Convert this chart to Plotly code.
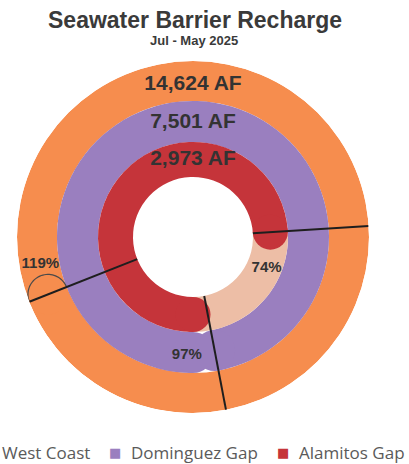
import numpy as np
import plotly.graph_objects as go

# ---------------------------------------------------------------------------
# Data
# ---------------------------------------------------------------------------
barriers = ["West Coast", "Dominguez Gap", "Alamitos Gap"]
recharge_af = [14624, 7501, 2973]
pct_of_target = [119, 97, 74]

title = "Seawater Barrier Recharge"
subtitle = "Jul - May 2025"

# ---------------------------------------------------------------------------
# Style
# ---------------------------------------------------------------------------
W, H = 409, 464
CX, CY, R_OUT = 193, 237, 176          # donut centre / outer radius in px
START = 180                              # rings start at the bottom, run clockwise

RING_COLORS = {
    "West Coast": "#F68D4E",
    "Dominguez Gap": "#9A7FBF",
    "Alamitos Gap": "#C5343A",
}
TRACK_COLOR = "#EDBEA6"                  # unfilled part of the inner ring
TRACKED = {"Alamitos Gap"}
RINGS = {                                # (inner, outer) radius, 1 unit = 1 px
    "West Coast": (136, 176),
    "Dominguez Gap": (95, 136),
    "Alamitos Gap": (60, 95),
}
HOLE = 60
AF_LABEL_R = {"West Coast": 152, "Dominguez Gap": 114, "Alamitos Gap": 77}
PCT_LABEL_POS = {"West Coast": (155, 260), "Dominguez Gap": (118, 183), "Alamitos Gap": (80, 113)}
TEXT_COLOR = "#333333"
FONT = "Liberation Sans, Arial, sans-serif"


def px_x(x):
    return x / W


def px_y(y):
    return 1 - y / H


def cap_outline(r_mid, theta, rho, n=40):
    """Semicircle ahead of an arc end, returned in polar (r, theta)."""
    t = np.radians(theta)
    u_r = np.array([np.sin(t), np.cos(t)])
    u_t = np.array([np.cos(t), -np.sin(t)])
    c = r_mid * u_r
    phi = np.linspace(0, np.pi, n)
    pts = c[:, None] + rho * (np.outer(u_r, np.cos(phi)) + np.outer(u_t, np.sin(phi)))
    r = np.hypot(pts[0], pts[1])
    th = np.degrees(np.arctan2(pts[0], pts[1]))
    return r, th


fig = go.Figure()

# ring bars
for name, pct in zip(barriers, pct_of_target):
    r0, r1 = RINGS[name]
    span = pct / 100 * 360
    color = RING_COLORS[name]
    thetas, widths, colors = [], [], []
    if span >= 360:
        thetas += [START + 180, START + (span - 360) / 2]
        widths += [360, span - 360]
        colors += [color, color]
    else:
        thetas.append(START + span / 2)
        widths.append(span)
        colors.append(color)
        if name in TRACKED:
            thetas.append(START + span + (360 - span) / 2)
            widths.append(360 - span)
            colors.append(TRACK_COLOR)
    fig.add_trace(
        go.Barpolar(
            r=[r1 - r0] * len(thetas),
            base=[r0] * len(thetas),
            theta=thetas,
            width=widths,
            marker=dict(color=colors, line=dict(width=0)),
            name=name,
            showlegend=False,
            hoverinfo="skip",
        )
    )

# rounded ends
for name, pct in zip(barriers, pct_of_target):
    r0, r1 = RINGS[name]
    r_mid = (r0 + r1) / 2
    end = START + pct / 100 * 360
    ends = [end] if pct >= 100 else [START, end]
    fig.add_trace(
        go.Scatterpolar(
            r=[r_mid] * len(ends),
            theta=ends,
            mode="markers",
            marker=dict(size=r1 - r0, color=RING_COLORS[name], line=dict(width=0)),
            showlegend=False,
            hoverinfo="skip",
        )
    )
    if pct >= 100:
        cr, ct = cap_outline(r_mid, end, (r1 - r0) / 2)
        fig.add_trace(
            go.Scatterpolar(
                r=cr, theta=ct, mode="lines",
                line=dict(color="#4a4a4a", width=1.2),
                showlegend=False, hoverinfo="skip",
            )
        )

# end-of-progress markers
for pct in pct_of_target:
    end = START + pct / 100 * 360
    fig.add_trace(
        go.Scatterpolar(
            r=[HOLE, R_OUT], theta=[end, end], mode="lines",
            line=dict(color="#1e1e1e", width=2),
            showlegend=False, hoverinfo="skip",
        )
    )

# value labels
fig.add_trace(
    go.Scatterpolar(
        r=[AF_LABEL_R[n] for n in barriers],
        theta=[0] * len(barriers),
        text=[f"{v:,} AF" for v in recharge_af],
        mode="text",
        textfont=dict(family=FONT, size=21, color=TEXT_COLOR, weight="bold"),
        showlegend=False, hoverinfo="skip",
    )
)
fig.add_trace(
    go.Scatterpolar(
        r=[PCT_LABEL_POS[n][0] for n in barriers],
        theta=[PCT_LABEL_POS[n][1] for n in barriers],
        text=[f"{p}%" for p in pct_of_target],
        mode="text",
        textfont=dict(family=FONT, size=15, color=TEXT_COLOR, weight="bold"),
        showlegend=False, hoverinfo="skip",
    )
)

annotations = [
    dict(text=f"<b>{title}</b>", x=px_x(195), y=px_y(20), xref="paper", yref="paper",
         xanchor="center", yanchor="middle", showarrow=False,
         font=dict(family=FONT, size=23, color="#3a3a3a")),
    dict(text=f"<b>{subtitle}</b>", x=px_x(194), y=px_y(40), xref="paper", yref="paper",
         xanchor="center", yanchor="middle", showarrow=False,
         font=dict(family=FONT, size=13, color="#3a3a3a")),
]

# legend row (cropped on the left like the source image)
legend_sq_x = [-16, 115, 283]
legend_txt_x = [0, 129, 297]
for name, sx, tx in zip(barriers, legend_sq_x, legend_txt_x):
    annotations.append(dict(
        text="■", x=px_x(sx), y=px_y(452), xref="paper", yref="paper",
        xanchor="center", yanchor="middle", showarrow=False,
        font=dict(family="DejaVu Sans", size=13, color=RING_COLORS[name]),
    ))
    annotations.append(dict(
        text=name, x=px_x(tx), y=px_y(452), xref="paper", yref="paper",
        xanchor="left", yanchor="middle", showarrow=False,
        font=dict(family="Open Sans, sans-serif", size=17, color="#5a5a5a"),
    ))

fig.update_layout(
    width=W,
    height=H,
    margin=dict(l=0, r=0, t=0, b=0, autoexpand=False),
    paper_bgcolor="white",
    plot_bgcolor="white",
    showlegend=False,
    annotations=annotations,
    polar=dict(
        domain=dict(x=[px_x(CX - R_OUT), px_x(CX + R_OUT)],
                    y=[px_y(CY + R_OUT), px_y(CY - R_OUT)]),
        bgcolor="white",
        radialaxis=dict(range=[0, R_OUT], visible=False),
        angularaxis=dict(rotation=90, direction="clockwise", visible=False),
        barmode="overlay",
    ),
)

# the page body has a default 8px margin; drop it so the figure fills the window
fig.write_html(
    "out.html",
    config={"displayModeBar": False},
    post_script="document.body.style.margin='0';",
)
